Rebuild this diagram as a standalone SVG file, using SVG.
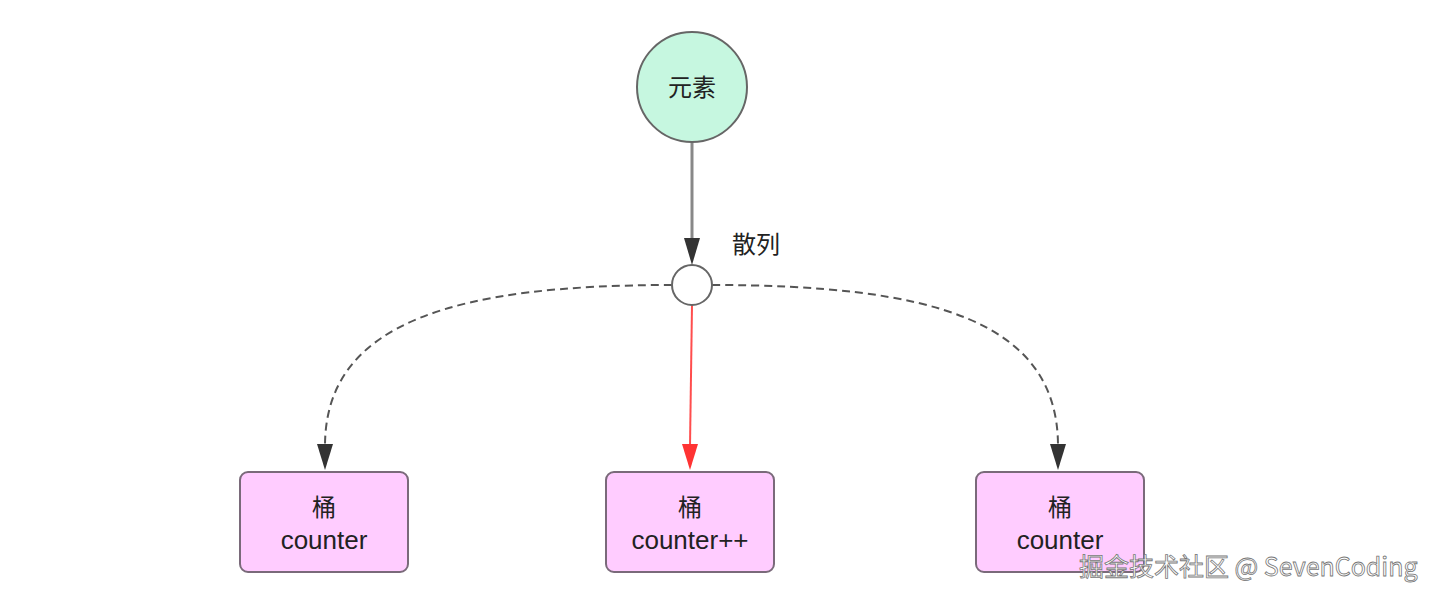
<svg xmlns="http://www.w3.org/2000/svg" width="1440" height="601" viewBox="0 0 1440 601">
<style>
.t{font-family:"Liberation Sans","Noto Sans CJK SC",sans-serif;font-size:24px;fill:#222;text-anchor:middle}
.l{font-size:26px}
.box{fill:#ffccff;stroke:#7a6a7a;stroke-width:2}
.dash{fill:none;stroke:#555;stroke-width:2;stroke-dasharray:8 5}
</style>
<rect width="1440" height="601" fill="#fff"/>
<g id="connectors">
<line x1="692" y1="142" x2="692" y2="240" stroke="#888" stroke-width="3"/>
<path d="M684,238 L700,238 L692,265 Z" fill="#333"/>
<path class="dash" d="M672,285 C460,285 325,320 325,446"/>
<path d="M317,444 L333,444 L325,470 Z" fill="#333"/>
<path class="dash" d="M712,285 C930,285 1058,320 1058,446"/>
<path d="M1050,444 L1066,444 L1058,470 Z" fill="#333"/>
<line x1="692" y1="305" x2="690" y2="446" stroke="#ff4d4d" stroke-width="2"/>
<path d="M682,444 L698,444 L690,470 Z" fill="#ff3333"/>
</g>
<g id="element">
<circle cx="692" cy="87" r="55" fill="#c6f7e0" stroke="#666" stroke-width="2"/>
<text class="t" x="692" y="96">元素</text>
</g>
<g id="hash">
<circle cx="692" cy="285" r="20" fill="#fff" stroke="#666" stroke-width="2"/>
<text class="t" x="756" y="253">散列</text>
</g>
<g id="bucket1">
<rect class="box" x="240" y="472" width="168" height="100" rx="8"/>
<text class="t" x="324" y="516">桶</text>
<text class="t l" x="324" y="549">counter</text>
</g>
<g id="bucket2">
<rect class="box" x="606" y="472" width="168" height="100" rx="8"/>
<text class="t" x="690" y="516">桶</text>
<text class="t l" x="690" y="549">counter++</text>
</g>
<g id="bucket3">
<rect class="box" x="976" y="472" width="168" height="100" rx="8"/>
<text class="t" x="1060" y="516">桶</text>
<text class="t l" x="1060" y="549">counter</text>
</g>
<text x="1079" y="576" font-family="'Noto Sans CJK SC','Liberation Sans',sans-serif" font-size="25" fill="#fff" stroke="#777" stroke-width="0.8">掘金技术社区 @ SevenCoding</text>
</svg>
